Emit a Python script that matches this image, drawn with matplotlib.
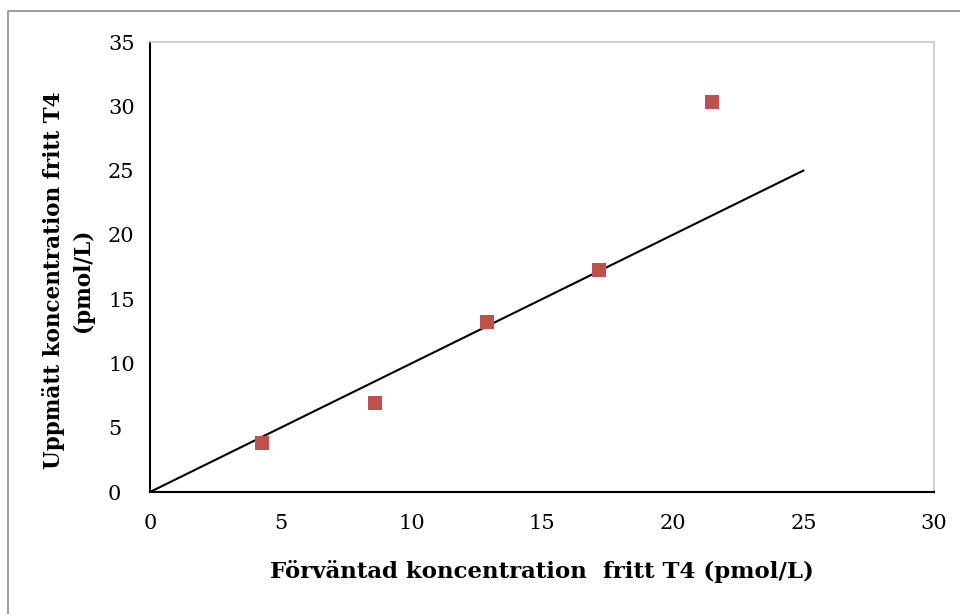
import matplotlib.pyplot as plt
from matplotlib.patches import Rectangle

# data
expected = [4.3, 8.6, 12.9, 17.2, 21.5]
measured = [3.8, 6.9, 13.2, 17.3, 30.3]
line_x = [0, 25]
line_y = [0, 25]
x_ticks = [0, 5, 10, 15, 20, 25, 30]
y_ticks = [0, 5, 10, 15, 20, 25, 30, 35]

plt.rcParams['font.family'] = ['DejaVu Serif']

fig = plt.figure(figsize=(9.6, 6.14), dpi=100)
ax = fig.add_axes([150 / 960, 1 - 492 / 614, (934 - 150) / 960, (492 - 42) / 614])

ax.plot(line_x, line_y, color='black', linewidth=1.5)
ax.plot(expected, measured, linestyle='none', marker='s', markersize=10,
        color='#C0504D', markeredgewidth=0)

ax.set_xlim(0, 30)
ax.set_ylim(0, 35)
ax.set_xticks(x_ticks)
ax.set_yticks(y_ticks)
ax.set_yticklabels([])
ax.tick_params(length=0, labelsize=15, pad=16)

# y tick labels are left aligned in the original, so place them by hand
for v in y_ticks:
    ax.text(-42 / 784, v, str(v), transform=ax.get_yaxis_transform(),
            ha='left', va='center_baseline', fontsize=15)

for side in ['left', 'bottom']:
    ax.spines[side].set_color('black')
    ax.spines[side].set_linewidth(1.5)
for side in ['top', 'right']:
    ax.spines[side].set_color('#c8c8c8')
    ax.spines[side].set_linewidth(1.2)

ax.set_xlabel('Förväntad koncentration  fritt T4 (pmol/L)', fontsize=16.5,
              fontweight='bold', labelpad=19)
ax.set_ylabel('Uppmätt koncentration fritt T4\n(pmol/L)', fontsize=15.5,
              fontweight='bold', linespacing=1.35)
ax.yaxis.set_label_coords(-0.072, 0.47)

# grey frame around the chart area
fig.patches.append(Rectangle((8 / 960, -0.01), 1.1, 1 - 11 / 614 + 0.01,
                             transform=fig.transFigure, fill=False,
                             edgecolor='#8c8c8c', linewidth=1.2))

fig.savefig('out.png', dpi=100)
